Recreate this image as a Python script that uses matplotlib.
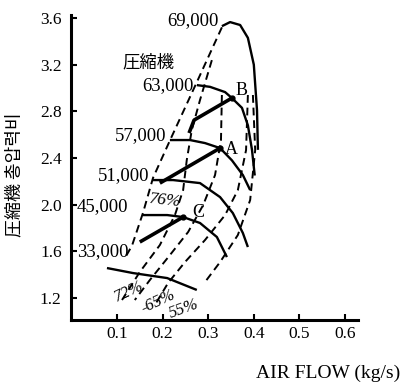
import numpy as np
import matplotlib.pyplot as plt

plt.rcParams['font.family'] = ['Liberation Serif', 'DejaVu Serif']

# compressor speed lines (rpm) : flow (kg/s), pressure ratio
speed_labels = ["69,000", "63,000", "57,000", "51,000", "45,000", "33,000"]
sp69_x = [0.330, 0.348, 0.370, 0.387, 0.400, 0.407, 0.409]
sp69_y = [3.53, 3.565, 3.54, 3.43, 3.20, 2.81, 2.47]
sp63_x = [0.275, 0.304, 0.337, 0.352, 0.374, 0.387, 0.396, 0.402]
sp63_y = [3.025, 3.01, 2.965, 2.914, 2.83, 2.68, 2.47, 2.25]
sp57_x = [0.216, 0.260, 0.293, 0.326, 0.352, 0.376, 0.392]
sp57_y = [2.554, 2.554, 2.528, 2.485, 2.38, 2.254, 2.125]
sp51_x = [0.179, 0.223, 0.282, 0.326, 0.354, 0.376, 0.387]
sp51_y = [2.211, 2.211, 2.185, 2.065, 1.928, 1.757, 1.637]
sp45_x = [0.157, 0.210, 0.245, 0.282, 0.319, 0.341]
sp45_y = [1.911, 1.911, 1.894, 1.843, 1.723, 1.551]
sp33_x = [0.078, 0.135, 0.210, 0.275]
sp33_y = [1.457, 1.414, 1.371, 1.269]

# operating lines to points A, B, C
op_a_x = [0.194, 0.326]
op_a_y = [2.185, 2.485]
op_b_x = [0.258, 0.269, 0.352]
op_b_y = [2.614, 2.725, 2.914]
op_c_x = [0.150, 0.245]
op_c_y = [1.680, 1.894]
point_names = ["A", "B", "C"]

# surge line and efficiency lines (dashed)
surge_x = [0.330, 0.275, 0.216, 0.179, 0.157, 0.133, 0.117]
surge_y = [3.52, 3.05, 2.55, 2.23, 1.93, 1.65, 1.54]
eff72_x = [0.308, 0.282, 0.264, 0.253, 0.245, 0.227, 0.194, 0.150, 0.111]
eff72_y = [3.239, 2.897, 2.640, 2.383, 2.125, 1.911, 1.654, 1.423, 1.183]
eff65_x = [0.330, 0.328, 0.315, 0.289, 0.256, 0.216, 0.172, 0.139]
eff65_y = [2.940, 2.554, 2.254, 1.997, 1.766, 1.568, 1.354, 1.183]
eff55_x = [0.387, 0.383, 0.365, 0.337, 0.293, 0.249, 0.212, 0.183]
eff55_y = [2.940, 2.468, 2.125, 1.911, 1.697, 1.508, 1.329, 1.140]
eff50_x = [0.398, 0.403, 0.392, 0.365, 0.326, 0.293]
eff50_y = [2.940, 2.468, 2.040, 1.740, 1.508, 1.337]

xticks = [0.1, 0.2, 0.3, 0.4, 0.5, 0.6]
yticks = [1.2, 1.6, 2.0, 2.4, 2.8, 3.2, 3.6]

fig = plt.figure(figsize=(4.02, 3.85), dpi=100)
ax = fig.add_axes([0.1776, 0.1688, 0.713, 0.792])

for xs, ys in [(sp69_x, sp69_y), (sp63_x, sp63_y), (sp57_x, sp57_y),
               (sp51_x, sp51_y), (sp45_x, sp45_y), (sp33_x, sp33_y)]:
    ax.plot(xs, ys, color='black', linewidth=1.7, solid_capstyle='butt')

for xs, ys in [(op_a_x, op_a_y), (op_b_x, op_b_y), (op_c_x, op_c_y)]:
    ax.plot(xs, ys, color='black', linewidth=2.6, solid_capstyle='butt')
    ax.plot(xs[-1], ys[-1], 'o', color='black', markersize=3.5)

for xs, ys in [(surge_x, surge_y), (eff72_x, eff72_y), (eff65_x, eff65_y),
               (eff55_x, eff55_y), (eff50_x, eff50_y)]:
    ax.plot(xs, ys, color='black', linewidth=1.4, linestyle=(0, (4, 2.5)))

# speed labels, right aligned at the start of each line
starts = [(sp69_x[0], sp69_y[0] + 0.05), (sp63_x[0], sp63_y[0]),
          (sp57_x[0], sp57_y[0] + 0.04), (sp51_x[0], sp51_y[0] + 0.04)]
for lab, (x, y) in zip(speed_labels[:4], starts):
    ax.text(x - 0.008, y, lab, fontsize=13.5, ha='right', va='center')
ax.text(0.012, 1.98, speed_labels[4], fontsize=13.5, ha='left', va='center')
ax.text(0.012, 1.60, speed_labels[5], fontsize=13.5, ha='left', va='center')

ax.text(0.168, 3.22, "圧縮機", fontsize=12.5, ha='center', va='center',
        family=['Noto Sans CJK JP'])

ax.text(0.350, 2.47, "A", fontsize=13, ha='center', va='center')
ax.text(0.374, 2.98, "B", fontsize=13, ha='center', va='center')
ax.text(0.278, 1.93, "C", fontsize=13, ha='center', va='center')

ax.text(0.206, 2.03, "76%", fontsize=12.5, ha='center', va='center',
        rotation=-6, style='italic')
ax.text(0.124, 1.25, "72%", fontsize=12, ha='center', va='center',
        rotation=25, style='italic')
ax.text(0.190, 1.17, "-65%", fontsize=12, ha='center', va='center',
        rotation=25, style='italic')
ax.text(0.247, 1.11, "55%", fontsize=12, ha='center', va='center',
        rotation=20, style='italic')

ax.set_xlim(0, 0.6285)
ax.set_ylim(1.0115, 3.625)
ax.set_xticks(xticks)
ax.set_xticklabels([f"{v:.1f}" for v in xticks])
ax.set_yticks(yticks)
ax.set_yticklabels([f"{v:.1f}" for v in yticks])
ax.tick_params(direction='in', length=4, width=1.5, labelsize=12.5)
ax.tick_params(axis='y', pad=7)
ax.tick_params(axis='x', pad=4)

for s in ['top', 'right']:
    ax.spines[s].set_visible(False)
for s in ['left', 'bottom']:
    ax.spines[s].set_linewidth(2.2)

fig.text(0.995, 0.031, "AIR FLOW (kg/s)", fontsize=14, ha='right', va='center')
fig.text(0.037, 0.545, "圧縮機 총압력비", fontsize=13, rotation=90,
         ha='center', va='center', family=['Noto Sans CJK JP', 'DejaVu Sans'])

fig.savefig("out.png", dpi=100)
